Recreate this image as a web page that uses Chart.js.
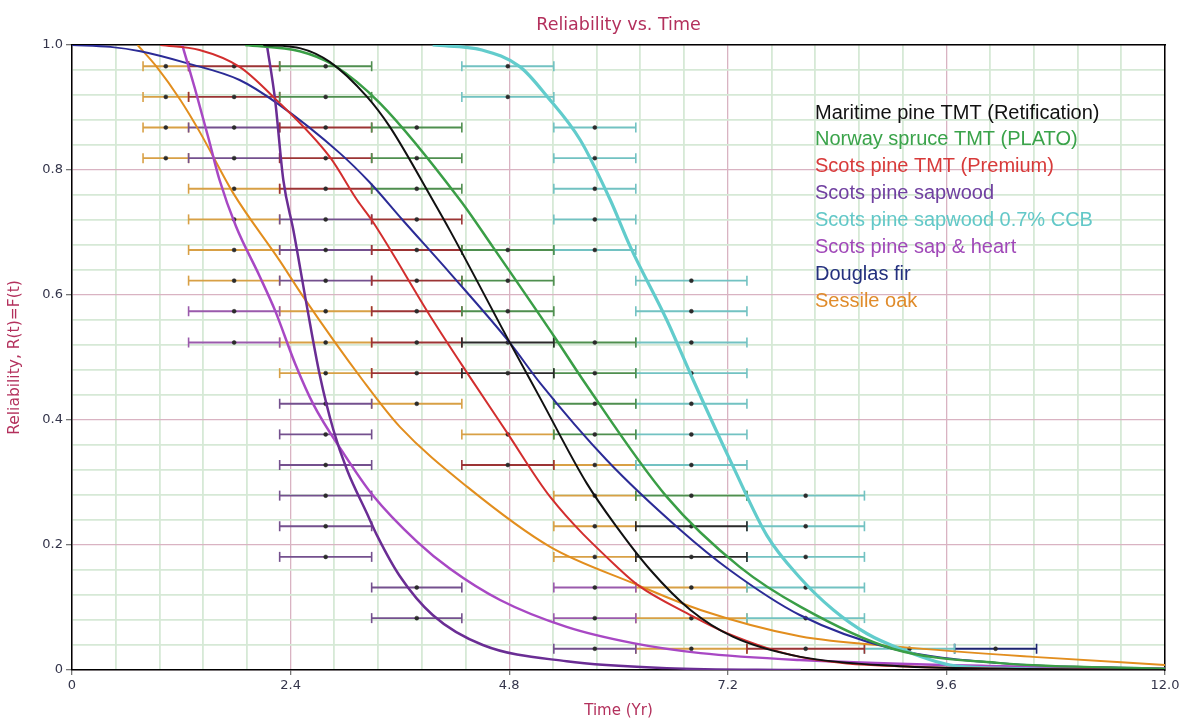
<!DOCTYPE html>
<html>
<head>
<meta charset="utf-8">
<script src="https://cdn.jsdelivr.net/npm/chart.js@4.4.1/dist/chart.umd.min.js"></script>
<style>
    html, body { margin: 0; padding: 0; background: #fff; }
    canvas { display: block; }
</style>
</head>
<body>
<canvas id="reliability-chart" width="1179" height="720"></canvas>
<script>
// inspection times (yr) that bound each failure interval
const inspectionTimes = [0.78, 1.28, 2.28, 3.29, 4.28, 5.29, 6.19, 7.41, 8.70, 9.69, 10.59];
// reliability plotting positions of the 20 ranked failures
const rankRows = [0.966, 0.917, 0.868, 0.819, 0.770, 0.721, 0.672, 0.623, 0.574, 0.524,
                  0.475, 0.426, 0.377, 0.328, 0.279, 0.230, 0.181, 0.132, 0.083, 0.034];

const seriesNames = [
    "Maritime pine TMT (Retification)",
    "Norway spruce TMT (PLATO)",
    "Scots pine TMT (Premium)",
    "Scots pine sapwood",
    "Scots pine sapwood 0.7% CCB",
    "Scots pine sap & heart",
    "Douglas fir",
    "Sessile oak"
];

// fitted reliability curves: time and R(t)
const maritimeT = [2.1, 2.5, 2.83, 3.24, 3.49, 3.96, 4.15, 4.81, 5.14, 5.65, 5.98, 6.35, 6.79, 7.26, 8.0, 9.09, 10.19, 12];
const maritimeR = [1.0, 0.995, 0.973, 0.917, 0.869, 0.752, 0.703, 0.523, 0.435, 0.299, 0.229, 0.16, 0.096, 0.053, 0.021, 0.006, 0.002, 0.0];

const norwayT = [1.9, 2.5, 2.87, 3.38, 4.26, 4.62, 5.32, 5.61, 6.53, 7.33, 8.0, 9.01, 10.19, 12];
const norwayR = [1.0, 0.99, 0.968, 0.907, 0.752, 0.677, 0.528, 0.464, 0.277, 0.165, 0.101, 0.034, 0.011, 0.002];

const premiumT = [0.97, 1.4, 1.84, 2.21, 2.83, 3.13, 3.29, 3.96, 4.34, 4.78, 5.25, 6.02, 6.24, 6.75, 7.19, 7.99, 9.09, 12];
const premiumR = [1.0, 0.992, 0.965, 0.917, 0.821, 0.752, 0.72, 0.56, 0.475, 0.379, 0.277, 0.16, 0.133, 0.091, 0.059, 0.021, 0.006, 0.0];

const sapwoodT = [2.14, 2.23, 2.32, 2.43, 2.58, 2.72, 2.87, 3.02, 3.24, 3.35, 3.6, 3.96, 4.51, 5.43, 6.53, 8.0];
const sapwoodR = [1.0, 0.912, 0.784, 0.704, 0.581, 0.472, 0.384, 0.32, 0.25, 0.215, 0.15, 0.088, 0.04, 0.014, 0.003, 0.0];

const ccbT = [3.96, 4.5, 4.92, 5.22, 5.58, 5.91, 6.13, 6.53, 6.82, 7.26, 7.63, 7.99, 8.36, 8.73, 9.09, 9.64, 10.19, 11];
const ccbR = [1.0, 0.992, 0.965, 0.917, 0.848, 0.752, 0.677, 0.56, 0.464, 0.325, 0.215, 0.148, 0.096, 0.058, 0.034, 0.008, 0.003, 0.0];

const sapHeartT = [1.21, 1.35, 1.5, 1.62, 1.8, 2.06, 2.23, 2.45, 2.65, 2.98, 3.30, 3.79, 4.15, 4.70, 5.43, 6.16, 6.90, 7.99, 10.19, 12];
const sapHeartR = [1.0, 0.93, 0.85, 0.784, 0.71, 0.63, 0.575, 0.49, 0.425, 0.347, 0.28, 0.205, 0.162, 0.112, 0.069, 0.043, 0.027, 0.016, 0.006, 0.002];

const douglasT = [0, 0.42, 0.75, 1.26, 1.84, 2.25, 2.94, 3.27, 3.63, 4.15, 4.81, 5.14, 5.87, 6.68, 7.22, 7.99, 9.01, 10.19, 12];
const douglasR = [1.0, 0.997, 0.99, 0.971, 0.944, 0.907, 0.827, 0.78, 0.72, 0.635, 0.523, 0.459, 0.336, 0.224, 0.16, 0.088, 0.034, 0.011, 0.002];

const oakT = [0.72, 0.93, 1.19, 1.41, 1.77, 2.28, 2.54, 3.19, 3.60, 4.34, 5.25, 6.16, 6.9, 7.99, 9.09, 10.55, 12];
const oakR = [1.0, 0.965, 0.912, 0.859, 0.763, 0.655, 0.597, 0.464, 0.389, 0.293, 0.197, 0.139, 0.096, 0.054, 0.037, 0.021, 0.008];

// failure intervals: [rank row, index of interval start in inspectionTimes]
const maritimeBars = [[9, 4], [10, 4], [15, 6], [16, 6]];
const norwayBars = [[0, 2], [1, 2], [2, 3], [3, 3], [4, 3], [6, 4], [7, 4], [8, 4],
                    [9, 5], [10, 5], [11, 5], [12, 5], [14, 6]];
const premiumBars = [[0, 1], [1, 1], [2, 2], [3, 2], [4, 2], [5, 3], [6, 3], [7, 3],
                     [8, 3], [9, 3], [10, 3], [13, 4], [19, 7]];
const sapwoodBars = [[2, 1], [3, 1], [5, 2], [6, 2], [7, 2], [11, 2], [12, 2], [13, 2],
                     [14, 2], [15, 2], [16, 2], [17, 3], [18, 3], [19, 5]];
const ccbBars = [[0, 4], [1, 4], [2, 5], [3, 5], [4, 5], [5, 5], [6, 5], [7, 6], [8, 6],
                 [9, 6], [10, 6], [11, 6], [12, 6], [13, 6], [14, 7], [15, 7], [16, 7],
                 [17, 7], [18, 7], [19, 8]];
const sapHeartBars = [[8, 1], [9, 1], [17, 5], [18, 5]];
const douglasBars = [[19, 9]];
const oakBars = [[0, 0], [1, 0], [2, 0], [3, 0], [4, 1], [5, 1], [6, 1], [7, 1], [8, 2],
                 [9, 2], [10, 2], [11, 3], [12, 4], [13, 5], [14, 5], [15, 5], [16, 5],
                 [17, 6], [18, 6], [19, 6]];

const species = [
    { t: maritimeT, r: maritimeR, bars: maritimeBars, line: "#111111", bar: "#2a2a2a", text: "#111111", width: 2 },
    { t: norwayT, r: norwayR, bars: norwayBars, line: "#3a9e46", bar: "#4f8f4f", text: "#3aa34a", width: 2.5 },
    { t: premiumT, r: premiumR, bars: premiumBars, line: "#d22e2e", bar: "#9c3434", text: "#d83a3a", width: 2 },
    { t: sapwoodT, r: sapwoodR, bars: sapwoodBars, line: "#6a2d94", bar: "#74508e", text: "#7040a0", width: 2.5 },
    { t: ccbT, r: ccbR, bars: ccbBars, line: "#62cccc", bar: "#72c2c2", text: "#62c8c8", width: 3.2 },
    { t: sapHeartT, r: sapHeartR, bars: sapHeartBars, line: "#a848c4", bar: "#9a5aac", text: "#a048b8", width: 2.5 },
    { t: douglasT, r: douglasR, bars: douglasBars, line: "#2b2b96", bar: "#1c2470", text: "#24307e", width: 2 },
    { t: oakT, r: oakR, bars: oakBars, line: "#e28e1e", bar: "#d8a045", text: "#e08c2c", width: 2 }
];

const gridMajor = "#d9b3c2";
const gridMinor = "#d6e9d6";
const axisText = "#33344a";
const titleColor = "#b3305c";
const labelFont = '"DejaVu Sans", Verdana, sans-serif';

// grid every 0.48 yr / 0.04, labelled every fifth line
const xGrid = [];
const yGrid = [];
for (let i = 0; i <= 25; i++) {
    xGrid.push(+(i * 0.48).toFixed(2));
    yGrid.push(+(i * 0.04).toFixed(2));
}

function curveData(t, r) {
    return t.map((x, i) => ({ x, y: r[i] }));
}

function barData(bars) {
    const out = [];
    bars.forEach(([row, k]) => {
        const y = rankRows[row];
        out.push({ x: inspectionTimes[k], y }, { x: inspectionTimes[k + 1], y }, { x: inspectionTimes[k + 1], y: null });
    });
    return out;
}

function dotData(bars) {
    return bars.map(([row, k]) => ({ x: (inspectionTimes[k] + inspectionTimes[k + 1]) / 2, y: rankRows[row] }));
}

function tickText(v) {
    return v === 0 ? "0" : v.toFixed(1);
}

let datasets = [];
species.forEach((s, i) => {
    datasets.push({
        label: seriesNames[i],
        data: curveData(s.t, s.r),
        borderColor: s.line,
        borderWidth: s.width,
        pointRadius: 0,
        cubicInterpolationMode: "monotone",
        fill: false,
        order: 0
    });
    datasets.push({
        label: seriesNames[i] + " intervals",
        data: barData(s.bars),
        borderColor: s.bar,
        borderWidth: 1.8,
        spanGaps: false,
        pointStyle: "line",
        rotation: 90,
        pointRadius: 5,
        pointBorderColor: s.bar,
        pointBorderWidth: 1.6,
        fill: false,
        order: 2
    });
    datasets.push({
        label: seriesNames[i] + " points",
        data: dotData(s.bars),
        showLine: false,
        pointRadius: 2,
        pointBackgroundColor: "#2b2b2b",
        pointBorderColor: "#2b2b2b",
        pointBorderWidth: 0.5,
        order: 1
    });
});

const legendText = {
    id: "legendText",
    afterDatasetsDraw(chart) {
        const { ctx, chartArea } = chart;
        ctx.save();
        ctx.font = '20px "Liberation Sans", Arial, sans-serif';
        ctx.textBaseline = "middle";
        ctx.textAlign = "left";
        seriesNames.forEach((name, i) => {
            ctx.fillStyle = species[i].text;
            ctx.fillText(name, chartArea.right - 350, chartArea.top + 68 + i * 26.9);
        });
        ctx.restore();
    }
};

const frameAxis = (position, fit) => ({
    type: "linear",
    position,
    min: 0,
    max: position === "top" ? 12 : 1,
    grid: { display: false, drawTicks: false },
    ticks: { display: false },
    border: { display: true, color: "#000", width: 1.5 },
    afterFit: fit
});

new Chart(document.getElementById("reliability-chart").getContext("2d"), {
    type: "line",
    data: { datasets },
    options: {
        responsive: false,
        animation: false,
        devicePixelRatio: 1,
        layout: { padding: 0, autoPadding: false },
        plugins: {
            legend: { display: false },
            tooltip: { enabled: false },
            title: {
                display: true,
                text: "Reliability vs. Time",
                color: titleColor,
                fullSize: false,
                font: { family: labelFont, size: 17.5, weight: "normal" },
                padding: { top: 15, bottom: 1 }
            }
        },
        scales: {
            x: {
                type: "linear",
                min: 0,
                max: 12,
                afterBuildTicks: scale => { scale.ticks = xGrid.map(v => ({ value: v })); },
                afterFit: scale => {
                    scale.height = 50;
                    scale.paddingLeft = 0;
                    scale.paddingRight = 0;
                },
                ticks: {
                    autoSkip: false,
                    maxRotation: 0,
                    padding: 3,
                    color: axisText,
                    font: { family: labelFont, size: 13 },
                    callback: (v, i) => (i % 5 === 0 ? tickText(v) : "")
                },
                grid: {
                    color: c => (c.index % 5 === 0 ? gridMajor : gridMinor),
                    lineWidth: c => (c.index % 5 === 0 ? 1.3 : 1.8),
                    tickColor: c => (c.index % 5 === 0 ? "#777" : "rgba(0,0,0,0)"),
                    tickLength: 5
                },
                border: { display: true, color: "#000", width: 1.5 },
                title: {
                    display: true,
                    text: "Time (Yr)",
                    color: titleColor,
                    font: { family: labelFont, size: 15 },
                    padding: { top: 4, bottom: 0 }
                }
            },
            y: {
                type: "linear",
                min: 0,
                max: 1,
                afterBuildTicks: scale => { scale.ticks = yGrid.map(v => ({ value: v })); },
                afterFit: scale => { scale.width = 72; },
                ticks: {
                    autoSkip: false,
                    padding: 3,
                    color: axisText,
                    font: { family: labelFont, size: 13 },
                    callback: (v, i) => (i % 5 === 0 ? tickText(v) : "")
                },
                grid: {
                    color: c => (c.index % 5 === 0 ? gridMajor : gridMinor),
                    lineWidth: c => (c.index % 5 === 0 ? 1.3 : 1.8),
                    tickColor: c => (c.index % 5 === 0 ? "#777" : "rgba(0,0,0,0)"),
                    tickLength: 6
                },
                border: { display: true, color: "#000", width: 1.5 },
                title: {
                    display: true,
                    text: "Reliability, R(t)=F(t)",
                    color: titleColor,
                    font: { family: labelFont, size: 15.5 },
                    padding: { top: 6, bottom: 4 }
                }
            },
            xTop: frameAxis("top", scale => { scale.height = 8; }),
            yRight: frameAxis("right", scale => { scale.width = 14; })
        }
    },
    plugins: [legendText]
});
</script>
</body>
</html>
